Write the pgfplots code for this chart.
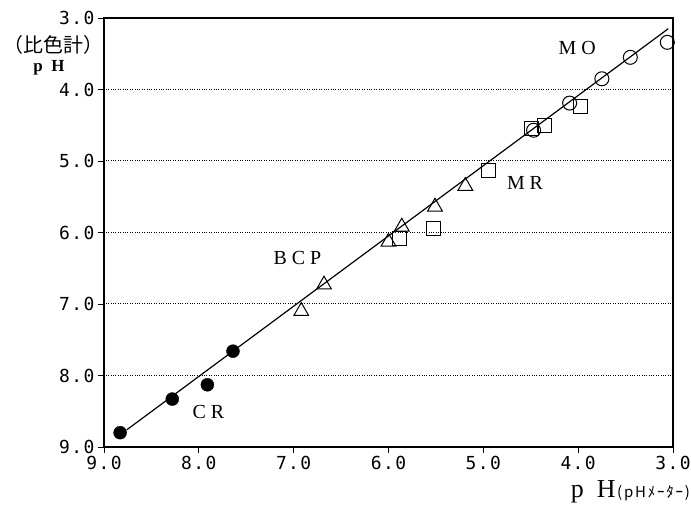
\documentclass[border=0pt]{standalone}
\usepackage{pgfplots}
\pgfplotsset{compat=1.18}
\usepackage{fontspec}
\setmainfont{Liberation Serif}
\newfontfamily\monofont[LetterSpace=8]{DejaVu Sans Mono}
\newfontfamily\cjk{Noto Sans CJK JP}
\newfontfamily\cjksp[LetterSpace=12]{Noto Sans CJK JP}
\newfontfamily\spaced[LetterSpace=25]{Liberation Serif}
\begin{document}
\begin{tikzpicture}
\begin{axis}[
  scale only axis,
  width=569bp, height=429bp,
  xmin=3, xmax=9, ymin=3, ymax=9,
  x dir=reverse, y dir=reverse,
  xtick={3,4,...,9}, ytick={3,4,...,9},
  tick pos=left, tick align=outside,
  major tick length=6bp,
  every tick/.style={black, line width=0.9pt},
  axis line style={line width=2.2pt},
  ymajorgrids, grid style={dotted, line width=1pt, black},
  /pgf/number format/assume math mode=true,
  xticklabel={\pgfmathprintnumber[fixed,precision=1,zerofill]{\tick}},
  yticklabel={\pgfmathprintnumber[fixed,precision=1,zerofill]{\tick}},
  tick label style={font=\monofont\fontsize{18}{19}\selectfont},
  clip=false,
]
% regression line
\addplot[black, line width=1.2pt] coordinates {(8.76,8.76) (3.05,3.15)};
% CR
\addplot[only marks, mark=*, mark size=6.5bp, black] coordinates {
 (8.83,8.80) (8.28,8.33) (7.91,8.13) (7.64,7.66)};
% BCP
\addplot[only marks, mark=triangle, mark size=8.5bp, black, line width=1pt] coordinates {
 (6.92,7.10) (6.68,6.73) (6.00,6.13) (5.86,5.92) (5.51,5.64) (5.19,5.35)};
% MR
\addplot[only marks, mark=square, mark size=7bp, black, line width=1pt] coordinates {
 (5.88,6.08) (5.53,5.95) (4.95,5.13) (4.49,4.54) (4.35,4.50) (3.98,4.24)};
% MO
\addplot[only marks, mark=o, mark size=7bp, black, line width=1pt] coordinates {
 (4.47,4.57) (4.09,4.19) (3.75,3.85) (3.45,3.55) (3.06,3.34)};
\node[font=\spaced\fontsize{20}{21}\selectfont] at (axis cs:4.01,3.42) {MO};
\node[font=\spaced\fontsize{20}{21}\selectfont] at (axis cs:4.56,5.31) {MR};
\node[font=\spaced\fontsize{20}{21}\selectfont] at (axis cs:6.96,6.36) {BCP};
\node[font=\spaced\fontsize{20}{21}\selectfont] at (axis cs:7.90,8.51) {CR};
\node[font=\cjk\fontsize{20}{21}\selectfont, inner sep=0pt] at (axis cs:9.53,3.38) {（比色計）};
\node[font=\spaced\bfseries\fontsize{17}{18}\selectfont] at (axis cs:9.58,3.70) {p H};
\node[anchor=east, inner sep=0pt] at (axis cs:2.82,9.63) {{\spaced\fontsize{26}{26}\selectfont p H}\,{\cjksp\fontsize{15}{16}\selectfont (pHﾒｰﾀｰ)}};
\end{axis}
\pgfresetboundingbox
\path ([shift={(-104bp,-67bp)}]current axis.south west) rectangle ([shift={(18bp,18bp)}]current axis.north east);
\end{tikzpicture}
\end{document}
